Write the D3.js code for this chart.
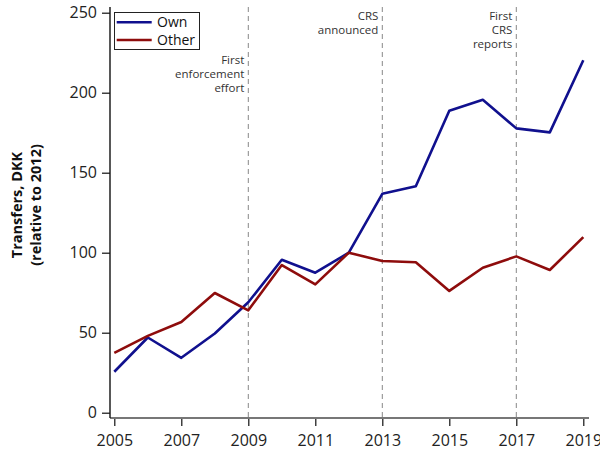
<!DOCTYPE html>
<html>
<head>
<meta charset="utf-8">
<script src="https://cdn.jsdelivr.net/npm/d3@7"></script>
<style>
  body { margin: 0; background: #fff; }
  svg { font-family: "Open Sans", "Noto Sans", sans-serif; }
</style>
</head>
<body>
<div id="chart"></div>
<script>
// Values
const years = [2005, 2006, 2007, 2008, 2009, 2010, 2011, 2012, 2013, 2014, 2015, 2016, 2017, 2018, 2019];
const own   = [25.6, 47, 34.3, 49.5, 69, 95.6, 87.5, 100, 136.8, 141.5, 188.7, 195.6, 177.7, 175.2, 220.3];
const other = [37.4, 48, 56.7, 74.8, 64, 92.3, 80.2, 100, 94.8, 94, 76.1, 90.6, 97.7, 89.2, 109.7];
const xTicks = [2005, 2007, 2009, 2011, 2013, 2015, 2017, 2019];
const yTicks = [0, 50, 100, 150, 200, 250];
const events = [
    {year: 2009, lines: ['First', 'enforcement', 'effort'], top: 64},
    {year: 2013, lines: ['CRS', 'announced'], top: 20},
    {year: 2017, lines: ['First', 'CRS', 'reports'], top: 20}
];
const series = [
    {name: 'Own', values: own, color: '#10108e'},
    {name: 'Other', values: other, color: '#8e0c0c'}
];

const width = 600, height = 455;

const svg = d3.select('#chart')
    .append('svg')
    .attr('width', width)
    .attr('height', height);

const x = d3.scaleLinear()
    .domain([2005, 2019])
    .range([114.3, 583.3]);

const y = d3.scaleLinear()
    .domain([0, 250])
    .range([412.7, 12.7]);

const axisY = 418, axisX = 110;

// Event markers
events.forEach(e => {
    svg.append('line')
        .attr('x1', x(e.year)).attr('x2', x(e.year))
        .attr('y1', 7).attr('y2', axisY)
        .attr('stroke', '#888')
        .attr('stroke-width', 1)
        .attr('stroke-dasharray', '5,4');

    const t = svg.append('text')
        .attr('text-anchor', 'end')
        .attr('font-size', 11.5)
        .attr('fill', '#333');
    e.lines.forEach((l, i) => {
        t.append('tspan')
            .attr('x', x(e.year) - 4)
            .attr('y', e.top + i * 14)
            .text(l);
    });
});

// Axes
const yAxis = svg.append('g')
    .attr('transform', `translate(${axisX},0)`)
    .call(d3.axisLeft(y).tickValues(yTicks).tickSize(8).tickPadding(5));
yAxis.select('.domain').remove();
yAxis.selectAll('line').attr('stroke', '#111').attr('stroke-width', 1.2);
yAxis.selectAll('text')
    .attr('font-size', 16)
    .attr('font-family', '"Open Sans", sans-serif')
    .attr('fill', '#222');

const xAxis = svg.append('g')
    .attr('transform', `translate(0,${axisY})`)
    .call(d3.axisBottom(x).tickValues(xTicks).tickFormat(d3.format('d')).tickSize(8).tickPadding(9));
xAxis.select('.domain').remove();
xAxis.selectAll('line').attr('stroke', '#111').attr('stroke-width', 1.2);
xAxis.selectAll('text')
    .attr('font-size', 16)
    .attr('font-family', '"Open Sans", sans-serif')
    .attr('fill', '#222');

// axis lines
svg.append('line')
    .attr('x1', axisX).attr('x2', 589)
    .attr('y1', axisY).attr('y2', axisY)
    .attr('stroke', '#777')
    .attr('stroke-width', 2);
svg.append('line')
    .attr('x1', axisX).attr('x2', axisX)
    .attr('y1', 7).attr('y2', axisY)
    .attr('stroke', '#111')
    .attr('stroke-width', 1.4);

// Series lines
const line = d3.line()
    .x((d, i) => x(years[i]))
    .y(d => y(d));

series.forEach(s => {
    svg.append('path')
        .datum(s.values)
        .attr('fill', 'none')
        .attr('stroke', s.color)
        .attr('stroke-width', 2.6)
        .attr('stroke-linejoin', 'round')
        .attr('d', line);
});

// Y label
const yl = svg.append('text')
    .attr('transform', 'translate(0,205) rotate(-90)')
    .attr('text-anchor', 'middle')
    .attr('font-size', 14.5)
    .attr('font-weight', 'bold')
    .attr('fill', '#111');
yl.append('tspan').attr('x', 0).attr('y', 22).text('Transfers, DKK');
yl.append('tspan').attr('x', 0).attr('y', 41).text('(relative to 2012)');

// Legend
const legend = svg.append('g');
legend.append('rect')
    .attr('x', 114.5).attr('y', 12.5)
    .attr('width', 85).attr('height', 37)
    .attr('fill', '#fff')
    .attr('stroke', '#222')
    .attr('stroke-width', 1);
series.forEach((s, i) => {
    const ly = 22.3 + i * 17.7;
    legend.append('line')
        .attr('x1', 116.7).attr('x2', 151.7)
        .attr('y1', ly).attr('y2', ly)
        .attr('stroke', s.color)
        .attr('stroke-width', 2.6);
    legend.append('text')
        .attr('x', 157)
        .attr('y', ly + 5)
        .attr('font-size', 14)
        .attr('fill', '#111')
        .text(s.name);
});
</script>
</body>
</html>
